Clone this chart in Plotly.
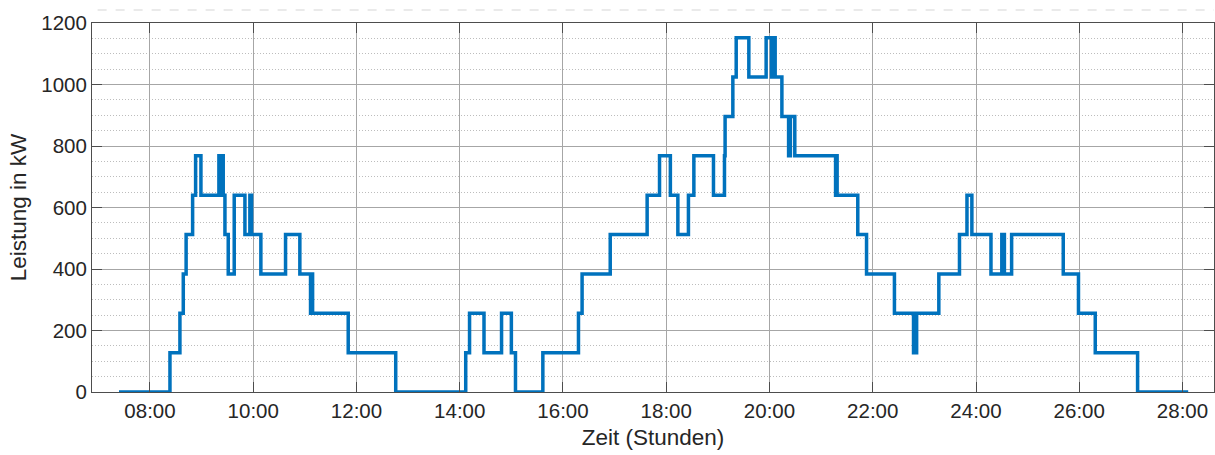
import plotly.graph_objects as go

# Step changes of the load profile: time in hours, power level in kW
zeit_h = [
    7.40, 8.387, 8.58, 8.645, 8.70, 8.826, 8.884, 8.987, 9.335, 9.36,
    9.375, 9.419, 9.452, 9.516, 9.632, 9.839, 9.935, 9.968, 10.148, 10.626,
    10.903, 11.11, 11.13, 11.15, 11.84, 12.76, 14.116, 14.19, 14.47, 14.81,
    15.0, 15.08, 15.61, 16.30, 16.37, 16.915, 17.63, 17.87, 18.08, 18.225,
    18.43, 18.535, 18.915, 19.128, 19.14, 19.29, 19.355, 19.60, 19.935, 20.04,
    20.09, 20.11, 20.24, 20.37, 20.405, 20.49, 21.28, 21.30, 21.31, 21.71,
    21.88, 22.42, 22.79, 22.85, 23.28, 23.68, 23.825, 23.92, 24.29, 24.50,
    24.55, 24.69, 25.69, 25.985, 26.31, 27.13, 28.11,
]
leistung_kw = [
    0, 128, 256, 384, 512, 640, 768, 640, 768, 640,
    768, 640, 512, 384, 640, 512, 640, 512, 384, 512,
    384, 256, 384, 256, 128, 0, 128, 256, 128, 256,
    128, 0, 128, 256, 384, 512, 640, 768, 640, 512,
    640, 768, 640, 768, 896, 1024, 1152, 1024, 1152, 1024,
    1152, 1024, 896, 768, 896, 768, 640, 768, 640, 512,
    384, 256, 128, 256, 384, 512, 640, 512, 384, 512,
    384, 512, 384, 256, 128, 0, 0,
]

tick_stunden = [8, 10, 12, 14, 16, 18, 20, 22, 24, 26, 28]
tick_texte = ["08:00", "10:00", "12:00", "14:00", "16:00", "18:00",
              "20:00", "22:00", "24:00", "26:00", "28:00"]
y_ticks = [0, 200, 400, 600, 800, 1000, 1200]

FONT = "Liberation Sans, Arial, Helvetica, sans-serif"
TEXT = "#262626"
AXIS = "#4d4d4d"

fig = go.Figure()
fig.add_trace(go.Scatter(
    x=zeit_h, y=leistung_kw, mode="lines", line_shape="hv",
    line=dict(color="#0072BD", width=3.5), showlegend=False,
))

fig.update_layout(
    width=1215, height=455,
    margin=dict(l=92, r=1, t=23, b=63),
    paper_bgcolor="white", plot_bgcolor="white",
    font=dict(family=FONT, color=TEXT, size=20),
    xaxis=dict(
        range=[6.877, 28.61],
        tickvals=tick_stunden, ticktext=tick_texte,
        showgrid=True, gridcolor="#a6a6a6", gridwidth=1,
        showline=True, linecolor=AXIS, linewidth=1, mirror="ticks",
        ticks="inside", ticklen=10, tickcolor=AXIS,
        zeroline=False,
        title=dict(text="Zeit (Stunden)", font=dict(size=22.5), standoff=8),
        tickfont=dict(size=20.5, color=TEXT),
    ),
    yaxis=dict(
        range=[0, 1200],
        tickvals=y_ticks,
        showgrid=True, gridcolor="#a6a6a6", gridwidth=1,
        minor=dict(dtick=50, showgrid=True, gridcolor="#bdbdbd",
                   griddash="1px,2px", gridwidth=1, ticks=""),
        showline=True, linecolor=AXIS, linewidth=1, mirror="ticks",
        ticks="inside", ticklen=10, tickcolor=AXIS,
        zeroline=False,
        title=dict(text="Leistung in kW", font=dict(size=22.5), standoff=8),
        tickfont=dict(size=20.5, color=TEXT),
    ),
)

# faint dashed rule above the plot area
fig.add_shape(type="line", xref="paper", yref="paper",
              x0=0.005, x1=1.0, y0=1.035, y1=1.035,
              line=dict(color="#e3e3e3", width=1.5, dash="dash"))

fig.write_html("out.html")
